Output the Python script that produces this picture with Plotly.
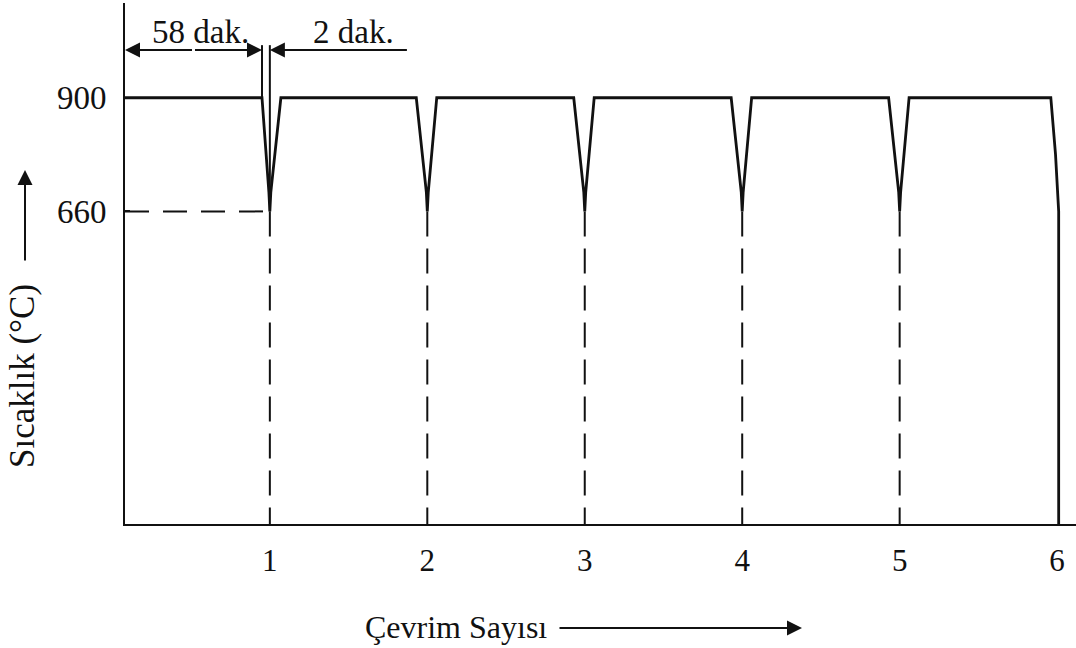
import plotly.graph_objects as go

# Thermal cycling profile: 58 min hold at 900 °C, 2 min dip to 660 °C
cycles = [1, 2, 3, 4, 5, 6]
cycle_labels = ["1", "2", "3", "4", "5", "6"]
temp_ticks = [660, 900]
temp_labels = ["660", "900"]

hold_temp = 900
low_temp = 660
neck_temp = 700          # where the two flanks of each dip meet
dip_start = [0.95, 1.93, 2.93, 3.93, 4.93]
dip_bottom = [1.0, 2.0, 3.0, 4.0, 5.0]
dip_end = [1.07, 2.06, 3.06, 4.06, 5.06]
final_start = 5.96
final_mid = (5.99, 780)
final_end = 6.01

# axis extents and dimension-line levels (data units)
x_lo, x_hi = 0.08, 6.12
y_lo, y_hi = 0, 1100
dim_level = 1001
dim_right_end = 1.88
ext_top = 1011
neck_half = 0.006

FONT = "Liberation Serif"
INK = "#111111"

# temperature profile
px, py = [x_lo], [hold_temp]
for s, b, e in zip(dip_start, dip_bottom, dip_end):
    px += [s, b - neck_half, b, b + neck_half, e]
    py += [hold_temp, neck_temp, low_temp, neck_temp, hold_temp]
px += [final_start, final_mid[0], final_end, final_end]
py += [hold_temp, final_mid[1], low_temp, y_lo]

fig = go.Figure()
fig.add_trace(go.Scatter(x=px, y=py, mode="lines",
                         line=dict(color=INK, width=2.8), hoverinfo="skip"))

# dashed guides down from each dip to the cycle axis
for b in dip_bottom:
    fig.add_trace(go.Scatter(x=[b, b], y=[low_temp, y_lo], mode="lines",
                             line=dict(color=INK, width=2, dash="25px,12px"),
                             hoverinfo="skip"))
# dashed guide for the 660 °C level
fig.add_trace(go.Scatter(x=[x_lo, dip_bottom[0]], y=[low_temp, low_temp], mode="lines",
                         line=dict(color=INK, width=2, dash="24px,14px"),
                         hoverinfo="skip"))

# extension lines for the time dimensions of the first cycle
fig.add_trace(go.Scatter(x=[dip_start[0], dip_start[0]], y=[hold_temp, ext_top],
                         mode="lines", line=dict(color=INK, width=2), hoverinfo="skip"))
fig.add_trace(go.Scatter(x=[dip_bottom[0], dip_bottom[0]], y=[low_temp, ext_top],
                         mode="lines", line=dict(color=INK, width=2), hoverinfo="skip"))

arrow = dict(showarrow=True, arrowhead=2, arrowsize=1.5, arrowwidth=2,
             arrowcolor=INK, standoff=0, startstandoff=0,
             xref="x", yref="y", axref="x", ayref="y", text="")
mid58 = (x_lo + dip_start[0]) / 2
fig.add_annotation(x=x_lo, y=dim_level, ax=mid58, ay=dim_level, **arrow)
fig.add_annotation(x=dip_start[0], y=dim_level, ax=mid58, ay=dim_level, **arrow)
fig.add_annotation(x=dip_bottom[0], y=dim_level, ax=dim_right_end, ay=dim_level, **arrow)

fig.add_annotation(x=0.56, y=1038, text="58 dak.", showarrow=False,
                   xanchor="center", yanchor="middle",
                   font=dict(family=FONT, size=33, color=INK))
fig.add_annotation(x=1.53, y=1038, text="2 dak.", showarrow=False,
                   xanchor="center", yanchor="middle",
                   font=dict(family=FONT, size=33, color=INK))

# axis titles with direction arrows
PLOT_H, PLOT_W, PLOT_L, PLOT_B = 521, 951, 125, 524
fig.add_annotation(xref="paper", yref="paper",
                   x=(22 - PLOT_L) / PLOT_W, y=(PLOT_B - 376) / PLOT_H,
                   xanchor="center", yanchor="middle",
                   text="Sıcaklık (°C)", textangle=-90, showarrow=False,
                   font=dict(family=FONT, size=35, color=INK))
fig.add_annotation(xref="paper", yref="paper",
                   x=(25 - PLOT_L) / PLOT_W, y=(PLOT_B - 170) / PLOT_H,
                   ax=0, ay=92, text="", showarrow=True, arrowhead=2, arrowsize=1.5,
                   arrowwidth=2, arrowcolor=INK, standoff=0)
fig.add_annotation(xref="paper", yref="paper",
                   x=(456 - PLOT_L) / PLOT_W, y=-(627 - PLOT_B) / PLOT_H,
                   xanchor="center", yanchor="middle",
                   text="Çevrim Sayısı", showarrow=False,
                   font=dict(family=FONT, size=32, color=INK))
fig.add_annotation(xref="paper", yref="paper",
                   x=(802 - PLOT_L) / PLOT_W, y=-(628 - PLOT_B) / PLOT_H,
                   ax=-244, ay=0, text="", showarrow=True, arrowhead=2, arrowsize=1.5,
                   arrowwidth=2, arrowcolor=INK, standoff=0)

fig.update_xaxes(range=[x_lo, x_hi], tickvals=cycles, ticktext=cycle_labels,
                 showgrid=False, zeroline=False, showline=True, linecolor=INK,
                 linewidth=2, ticks="", ticklabelstandoff=8,
                 tickfont=dict(family=FONT, size=31, color=INK))
fig.update_yaxes(range=[y_lo, y_hi], tickvals=temp_ticks, ticktext=temp_labels,
                 showgrid=False, zeroline=False, showline=True, linecolor=INK,
                 linewidth=2, ticks="inside", ticklen=5, tickwidth=1.5, tickcolor=INK,
                 ticklabelstandoff=10, tickfont=dict(family=FONT, size=33, color=INK))

fig.update_layout(width=1076, height=648, showlegend=False,
                  margin=dict(l=125, r=0, t=3, b=124),
                  paper_bgcolor="white", plot_bgcolor="white")

fig.write_html("out.html")
